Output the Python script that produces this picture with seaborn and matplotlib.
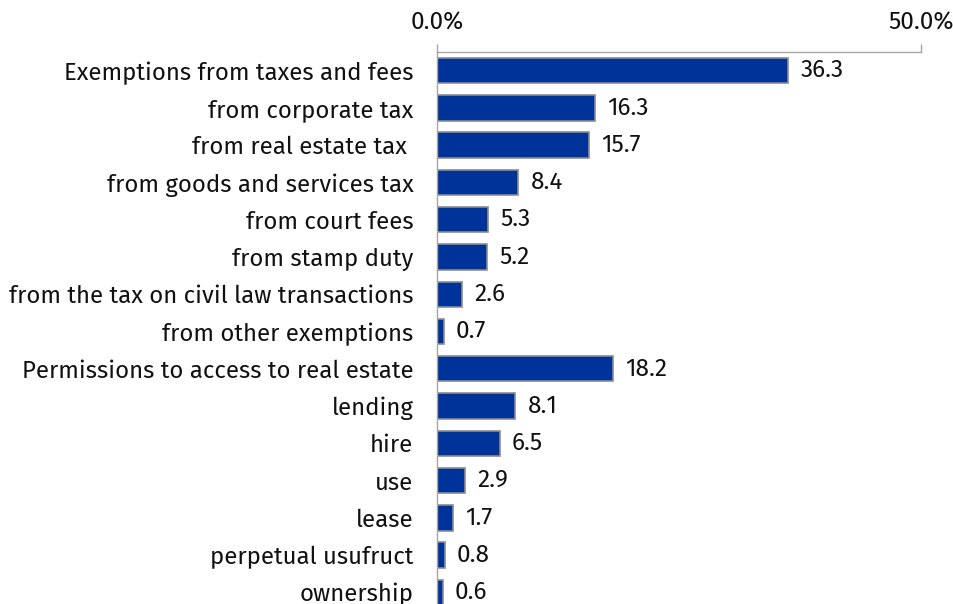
import matplotlib
matplotlib.use("Agg")
import matplotlib.pyplot as plt
import seaborn as sns
import pandas as pd

categories = [
    "Exemptions from taxes and fees",
    "from corporate tax",
    "from real estate tax ",
    "from goods and services tax",
    "from court fees",
    "from stamp duty",
    "from the tax on civil law transactions",
    "from other exemptions",
    "Permissions to access to real estate",
    "lending",
    "hire",
    "use",
    "lease",
    "perpetual usufruct",
    "ownership",
]
values = [36.3, 16.3, 15.7, 8.4, 5.3, 5.2, 2.6, 0.7, 18.2, 8.1, 6.5, 2.9, 1.7, 0.8, 0.6]
tick_values = [0, 50]
tick_labels = ["0.0%", "50.0%"]

df = pd.DataFrame({"category": categories, "value": values})

sns.set_theme(style="white")
plt.rcParams["font.family"] = ["Fira Sans", "Lato", "DejaVu Sans"]

fig = plt.figure(figsize=(9.54, 6.04), dpi=100)
ax = fig.add_axes([437 / 954, -7 / 604, 484 / 954, 559 / 604])

sns.barplot(data=df, x="value", y="category", orient="h", color="#003399",
            width=0.68, edgecolor="#8c8c8c", linewidth=1.2, saturation=1, ax=ax)

for i, v in enumerate(values):
    ax.text(v + 1.25, i, f"{v:.1f}", va="center", ha="left", fontsize=17.5, color="#111111")

ax.set_xlim(0, 50)
ax.set_ylim(len(categories) - 0.5, -0.5)
ax.xaxis.tick_top()
ax.set_xticks(tick_values)
ax.set_xticklabels(tick_labels, fontsize=17.5, color="#111111")
ax.tick_params(axis="x", top=True, bottom=False, direction="out", length=6,
               width=1, color="#a6a6a6", pad=7)
ax.tick_params(axis="y", left=False, length=0, pad=17, labelsize=17.3, labelcolor="#111111")
ax.set_xlabel("")
ax.set_ylabel("")

for side in ["right", "bottom"]:
    ax.spines[side].set_visible(False)
for side in ["top", "left"]:
    ax.spines[side].set_color("#a6a6a6")
    ax.spines[side].set_linewidth(1)

fig.savefig("out.png", dpi=100)
